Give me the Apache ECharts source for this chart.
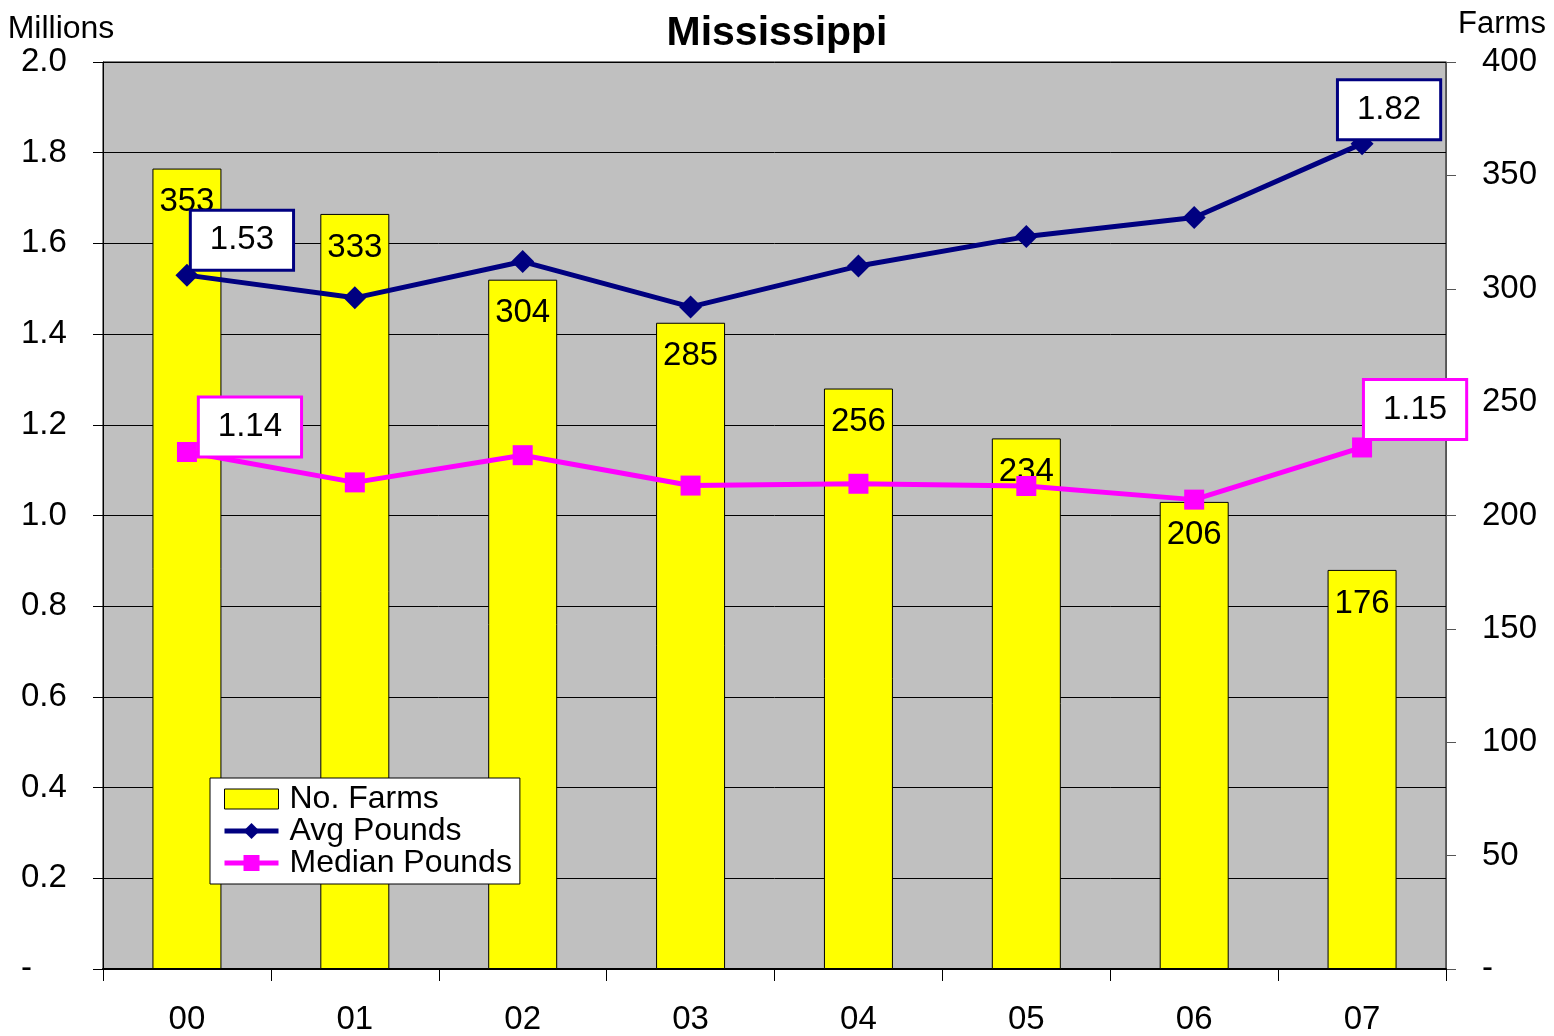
<!DOCTYPE html>
<html>
<head>
<meta charset="utf-8">
<script src="https://cdn.jsdelivr.net/npm/echarts@6/dist/echarts.min.js"></script>
<style>
  html, body { margin: 0; padding: 0; background: #fff; }
  #chart { width: 1554px; height: 1036px; }
</style>
</head>
<body>
<div id="chart"></div>
<script>
// values
const years = ['00', '01', '02', '03', '04', '05', '06', '07'];
const farms = [353, 333, 304, 285, 256, 234, 206, 176];
const avgPounds = [1.53, 1.48, 1.56, 1.46, 1.55, 1.615, 1.657, 1.82];
const medianPounds = [1.14, 1.073, 1.133, 1.066, 1.07, 1.065, 1.035, 1.15];
const leftTicks = { min: 0, max: 2, interval: 0.2 };
const rightTicks = { min: 0, max: 400, interval: 50 };

const FONT = 'Liberation Sans, Arial, sans-serif';

function boxLabel(color, offset) {
  return {
    show: true,
    position: 'inside',
    offset: offset,
    formatter: p => p.value.toFixed(2),
    fontFamily: FONT,
    fontSize: 33,
    color: '#000',
    backgroundColor: '#fff',
    borderColor: color,
    borderWidth: 3,
    padding: [13, 18, 11, 18]
  };
}

// only the first and last points carry a label box
function withEndLabels(values, color, firstOffset, lastOffset) {
  return values.map((v, i) => {
    if (i === 0) return { value: v, label: boxLabel(color, firstOffset) };
    if (i === values.length - 1) return { value: v, label: boxLabel(color, lastOffset) };
    return v;
  });
}

const chart = echarts.init(document.getElementById('chart'));

const option = {
  animation: false,
  backgroundColor: '#fff',
  textStyle: { fontFamily: FONT },
  title: {
    text: 'Mississippi',
    left: 'center',
    top: 8,
    textStyle: { fontFamily: FONT, fontSize: 41, fontWeight: 'bold', color: '#000' }
  },
  legend: {
    orient: 'vertical',
    left: 210,
    top: 778,
    padding: [5, 8, 5, 12],
    backgroundColor: '#fff',
    borderColor: '#000',
    borderWidth: 1,
    itemGap: 0,
    itemWidth: 54,
    itemHeight: 20,
    lineStyle: { width: 5 },
    textStyle: { fontFamily: FONT, fontSize: 32, color: '#000', lineHeight: 32, padding: [0, 0, 0, 6] },
    data: [
      { name: 'No. Farms', icon: 'rect', itemStyle: { borderColor: '#000', borderWidth: 1 } },
      { name: 'Avg Pounds' },
      { name: 'Median Pounds' }
    ]
  },
  grid: {
    left: 103,
    right: 108,
    top: 62,
    bottom: 62,
    show: true,
    backgroundColor: '#c0c0c0',
    borderColor: '#000',
    borderWidth: 1
  },
  xAxis: {
    type: 'category',
    data: years,
    boundaryGap: true,
    axisLine: { lineStyle: { color: '#000', width: 2 } },
    axisTick: { show: true, length: 12, lineStyle: { color: '#000' } },
    axisLabel: { fontFamily: FONT, fontSize: 33, color: '#000', margin: 34 }
  },
  yAxis: [
    {
      type: 'value',
      min: leftTicks.min,
      max: leftTicks.max,
      interval: leftTicks.interval,
      name: 'Millions',
      nameLocation: 'end',
      nameGap: 26,
      nameTextStyle: {
        fontFamily: FONT, fontSize: 32, color: '#000',
        align: 'center', verticalAlign: 'middle', padding: [0, 84, 0, 0]
      },
      axisLine: { show: true, lineStyle: { color: '#000', width: 1 } },
      axisTick: { show: true, length: 10, lineStyle: { color: '#000' } },
      axisLabel: {
        fontFamily: FONT, fontSize: 33, color: '#000', align: 'left', margin: 82,
        formatter: v => v === 0 ? '-' : v.toFixed(1)
      },
      splitLine: { show: true, lineStyle: { color: '#000', width: 1 } }
    },
    {
      type: 'value',
      position: 'right',
      min: rightTicks.min,
      max: rightTicks.max,
      interval: rightTicks.interval,
      name: 'Farms',
      nameLocation: 'end',
      nameGap: 38,
      nameTextStyle: {
        fontFamily: FONT, fontSize: 31, color: '#000',
        align: 'center', verticalAlign: 'middle', padding: [0, 0, 0, 112]
      },
      axisLine: { show: true, lineStyle: { color: '#555', width: 1 } },
      axisTick: { show: true, length: 10, lineStyle: { color: '#555' } },
      axisLabel: {
        fontFamily: FONT, fontSize: 33, color: '#000', align: 'left', margin: 36,
        formatter: v => v === 0 ? '-' : String(v)
      },
      splitLine: { show: false }
    }
  ],
  series: [
    {
      name: 'No. Farms',
      type: 'bar',
      yAxisIndex: 1,
      data: farms,
      barWidth: 69,
      itemStyle: { color: '#ffff00', borderColor: '#000', borderWidth: 1 },
      label: {
        show: true,
        position: 'insideTop',
        distance: 17,
        fontFamily: FONT,
        fontSize: 33,
        color: '#000'
      }
    },
    {
      name: 'Avg Pounds',
      type: 'line',
      yAxisIndex: 0,
      data: withEndLabels(avgPounds, '#000080', [55, -35], [27, -34]),
      symbol: 'diamond',
      symbolSize: 23,
      lineStyle: { color: '#000080', width: 5 },
      itemStyle: { color: '#000080' },
      label: { show: false },
      z: 3
    },
    {
      name: 'Median Pounds',
      type: 'line',
      yAxisIndex: 0,
      data: withEndLabels(medianPounds, '#ff00ff', [63, -25], [53, -38]),
      symbol: 'rect',
      symbolSize: 20,
      lineStyle: { color: '#ff00ff', width: 5 },
      itemStyle: { color: '#ff00ff' },
      label: { show: false },
      z: 3
    }
  ]
};

chart.setOption(option);
window.addEventListener('resize', () => chart.resize());
</script>
</body>
</html>
